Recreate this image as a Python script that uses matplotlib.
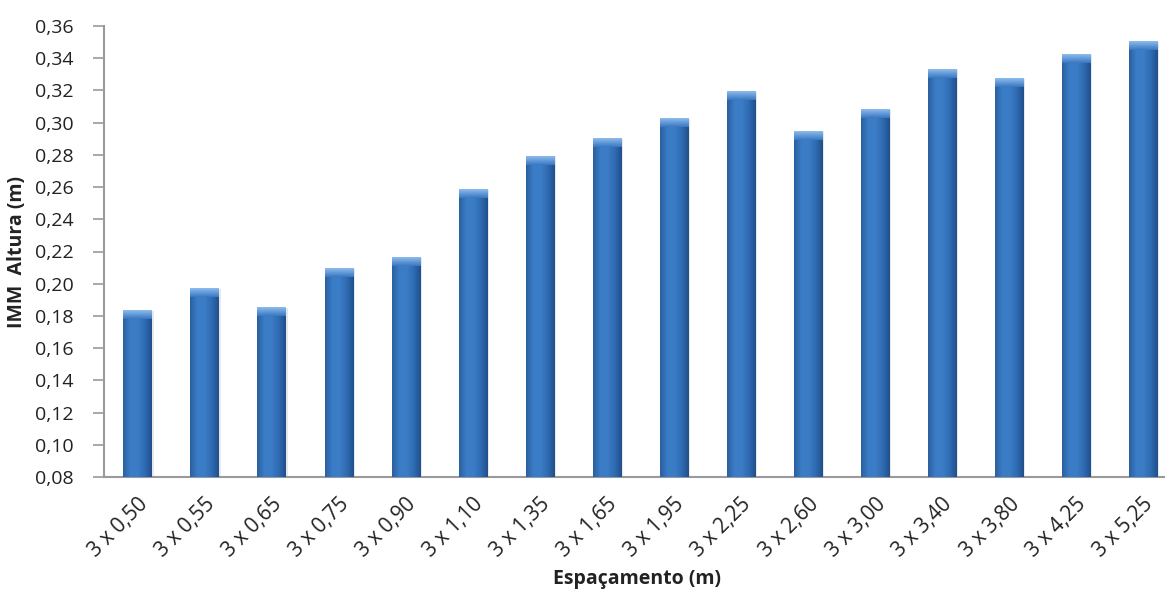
import numpy as np
import matplotlib
matplotlib.use("Agg")
import matplotlib.pyplot as plt
from matplotlib.colors import LinearSegmentedColormap
from matplotlib.ticker import FuncFormatter

# data
espacamento = ["3 x 0,50", "3 x 0,55", "3 x 0,65", "3 x 0,75", "3 x 0,90", "3 x 1,10",
               "3 x 1,35", "3 x 1,65", "3 x 1,95", "3 x 2,25", "3 x 2,60", "3 x 3,00",
               "3 x 3,40", "3 x 3,80", "3 x 4,25", "3 x 5,25"]
imm_altura = [0.183, 0.197, 0.185, 0.209, 0.216, 0.258, 0.279, 0.290, 0.302, 0.319,
              0.294, 0.308, 0.333, 0.327, 0.342, 0.350]

plt.rcParams['font.family'] = ['Open Sans', 'DejaVu Sans']

fig = plt.figure(figsize=(11.65, 5.94), dpi=100)
ax = fig.add_axes([104 / 1165, 117 / 594, 1061 / 1165, 451 / 594])

ymin = 0.08
width = 0.42
x = np.arange(len(espacamento))

# horizontal shading of each bar (slightly dark edges, lighter middle)
cmap = LinearSegmentedColormap.from_list("barra", ["#2a5f9f", "#3a7cc6", "#3b7dc6", "#2f6cb3", "#214f8c"])
grad = np.linspace(0, 1, 64).reshape(1, -1)

bars = ax.bar(x, np.array(imm_altura) - ymin, width, bottom=ymin, color="#2f6db5", zorder=2)
for b in bars:
    x0, y0 = b.get_x(), b.get_y()
    w, h = b.get_width(), b.get_height()
    # soft shadow on the right
    ax.bar(x0 + w, h, 0.035, bottom=y0, align="edge", color="#d5d9e0", alpha=0.6, zorder=1)
    im = ax.imshow(grad, cmap=cmap, aspect="auto", extent=[x0, x0 + w, y0, y0 + h], zorder=3)
    im.set_clip_path(b)
    # lighter cap at the top
    cap = 0.005
    ax.imshow(np.linspace(0, 1, 32).reshape(-1, 1),
              cmap=LinearSegmentedColormap.from_list("cap", ["#8cbcec", "#3a78c2"]),
              aspect="auto", extent=[x0, x0 + w, y0 + h - cap, y0 + h], zorder=4)

ax.set_xlim(-0.5, 15.33)
ax.set_ylim(0.08, 0.36)
ax.set_yticks(np.arange(0.08, 0.361, 0.02))
ax.yaxis.set_major_formatter(FuncFormatter(lambda v, p: f"{v:.2f}".replace(".", ",")))

ax.set_xticks(x)
ax.set_xticklabels(espacamento, rotation=45, ha="right", va="top", rotation_mode="anchor")
ax.tick_params(axis="x", length=0, pad=12, labelsize=15, colors="#222222")
ax.tick_params(axis="y", length=8, width=1.2, pad=14, color="#9a9a9e", labelsize=14, labelcolor="#222222")

for s in ["top", "right"]:
    ax.spines[s].set_visible(False)
for s in ["left", "bottom"]:
    ax.spines[s].set_color("#9a9a9e")
    ax.spines[s].set_linewidth(1.5)

ax.set_ylabel("IMM  Altura (m)", fontsize=14, fontweight="bold", color="#222222")
ax.yaxis.set_label_coords(-77 / 1061, 0.5)
ax.set_xlabel("Espaçamento (m)", fontsize=14, fontweight="bold", color="#222222")
ax.xaxis.set_label_coords((637 - 104) / 1061, -0.205)

fig.savefig("out.png", dpi=100)
